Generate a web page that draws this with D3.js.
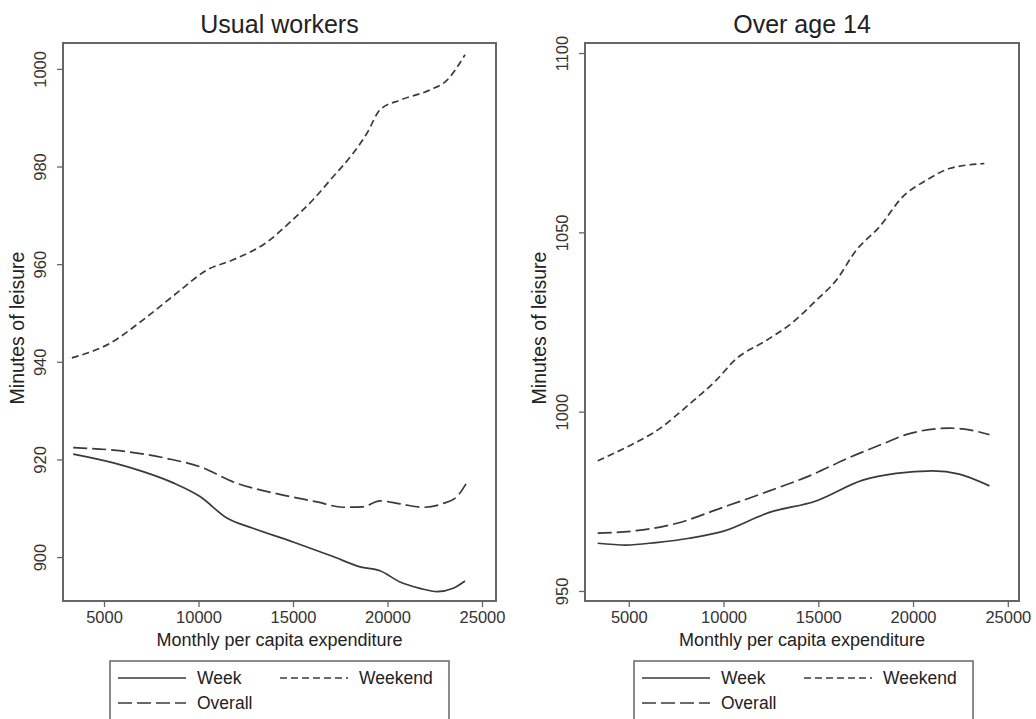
<!DOCTYPE html>
<html>
<head>
<meta charset="utf-8">
<script src="https://cdn.jsdelivr.net/npm/d3@7"></script>
<style>
  body { margin: 0; background: #fff; }
  svg { display: block; font-family: "Liberation Sans", Arial, sans-serif; }
</style>
</head>
<body>
<div id="chart"></div>
<script>
// values: [expenditure, minutes]
var workersWeek = [[3370,921.1],[5500,919.3],[7070,917.5],[8660,915.2],[10080,912.4],[11500,908.0],
  [12880,905.9],[15000,903.1],[17120,900.1],[18550,898.0],[19600,897.2],[20660,894.9],
  [21720,893.6],[22620,892.9],[23470,893.6],[24100,895.1]];
var workersWeekend = [[3300,940.8],[5320,943.8],[7070,948.6],[8860,954.1],[10450,958.8],[11830,960.9],
  [13620,964.5],[14840,968.6],[16060,973.2],[17120,977.9],[18180,982.7],[18910,986.8],
  [19600,991.6],[20660,993.6],[22250,995.7],[23150,997.7],[24100,1002.9]];
var workersOverall = [[3370,922.4],[5500,921.9],[8330,920.2],[10080,918.5],[11830,915.4],[14470,912.7],
  [16270,911.3],[17650,910.2],[18710,910.3],[19600,911.5],[20660,910.9],[21900,910.2],
  [22960,911.0],[23680,912.4],[24150,915.0]];

var over14Week = [[3360,963.3],[4850,962.8],[6440,963.5],[8200,964.7],[9960,966.6],[12420,971.9],
  [14880,975.1],[17350,980.9],[19100,982.8],[21040,983.5],[22440,982.6],[24030,979.3]];
var over14Weekend = [[3360,986.3],[4850,990.0],[6610,995.2],[8200,1002.1],[9600,1008.7],[10660,1014.7],
  [12240,1019.8],[13650,1024.9],[14880,1031.0],[15940,1036.6],[17000,1045.0],[18220,1051.5],
  [19450,1059.9],[20690,1064.5],[21920,1067.8],[23760,1069.2]];
var over14Overall = [[3360,966.1],[5380,966.8],[7490,968.8],[9960,973.3],[12420,977.9],[14530,982.1],
  [16640,987.2],[18400,991.0],[19630,993.6],[21920,995.4],[22620,995.2],[24030,993.6]];

var xTicks = [5000, 10000, 15000, 20000, 25000];
var workersYTicks = [900, 920, 940, 960, 980, 1000];
var over14YTicks = [950, 1000, 1050, 1100];
var seriesNames = ["Week", "Weekend", "Overall"];

var W = 1036, H = 719;
var lineColor = "#3a3a3a", frameColor = "#666";
var dashes = { Week: null, Weekend: "7,4", Overall: "14,5" };

var svg = d3.select("#chart").append("svg")
    .attr("width", W).attr("height", H);

function drawPanel(o) {
    var x = d3.scaleLinear().domain(o.xDomain).range([o.left, o.right]);
    var y = d3.scaleLinear().domain(o.yDomain).range([o.bottom, o.top]);
    var g = svg.append("g");

    g.append("text")
        .attr("x", (o.left + o.right) / 2).attr("y", 33)
        .attr("text-anchor", "middle")
        .attr("font-size", 25).attr("fill", "#222")
        .text(o.title);

    // x axis
    var xa = g.append("g")
        .attr("transform", "translate(0," + o.bottom + ")")
        .call(d3.axisBottom(x).tickValues(xTicks).tickSize(6).tickPadding(4).tickFormat(d3.format("d")));
    xa.select(".domain").remove();
    xa.selectAll("line").attr("stroke", frameColor).attr("stroke-width", 1.3);
    xa.selectAll("text").attr("font-size", 16.5).attr("fill", "#333").attr("font-family", "Liberation Sans, Arial, sans-serif");

    // y axis, labels turned upright
    var ya = g.append("g")
        .attr("transform", "translate(" + o.left + ",0)")
        .call(d3.axisLeft(y).tickValues(o.yTicks).tickSize(6).tickFormat(d3.format("d")));
    ya.select(".domain").remove();
    ya.selectAll("line").attr("stroke", frameColor).attr("stroke-width", 1.3);
    ya.selectAll("text")
        .attr("font-size", 16.5).attr("fill", "#333")
        .attr("font-family", "Liberation Sans, Arial, sans-serif")
        .attr("text-anchor", "middle")
        .attr("x", 0).attr("dy", 0)
        .attr("transform", "translate(-17,0) rotate(-90)");

    g.append("text")
        .attr("transform", "translate(" + (o.left - 39) + "," + ((o.top + o.bottom) / 2 + 6) + ") rotate(-90)")
        .attr("text-anchor", "middle")
        .attr("font-size", 19.5).attr("fill", "#222")
        .text("Minutes of leisure");

    g.append("text")
        .attr("x", (o.left + o.right) / 2).attr("y", 646)
        .attr("text-anchor", "middle")
        .attr("font-size", 18).attr("fill", "#222")
        .text("Monthly per capita expenditure");

    var line = d3.line()
        .curve(d3.curveMonotoneX)
        .x(function(d) { return x(d[0]); })
        .y(function(d) { return y(d[1]); });

    o.series.forEach(function(s, i) {
        g.append("path")
            .attr("d", line(s))
            .attr("fill", "none")
            .attr("stroke", lineColor)
            .attr("stroke-width", 1.7)
            .attr("stroke-dasharray", dashes[seriesNames[i]]);
    });

    g.append("rect")
        .attr("x", o.left).attr("y", o.top)
        .attr("width", o.right - o.left).attr("height", o.bottom - o.top)
        .attr("fill", "none").attr("stroke", frameColor).attr("stroke-width", 2);

    // legend
    var lg = g.append("g").attr("transform", "translate(" + o.legendX + ",661)");
    lg.append("rect")
        .attr("x", 0).attr("y", 0).attr("width", 339).attr("height", 70)
        .attr("fill", "none").attr("stroke", frameColor).attr("stroke-width", 1.5);
    var spots = [[8, 17], [170, 17], [8, 42]];
    seriesNames.forEach(function(name, i) {
        var p = spots[i];
        lg.append("line")
            .attr("x1", p[0]).attr("x2", p[0] + 68)
            .attr("y1", p[1]).attr("y2", p[1])
            .attr("stroke", lineColor).attr("stroke-width", 1.6)
            .attr("stroke-dasharray", dashes[name]);
        lg.append("text")
            .attr("x", p[0] + 79).attr("y", p[1] + 6)
            .attr("font-size", 17.5).attr("fill", "#222")
            .text(name);
    });
}

drawPanel({
    title: "Usual workers",
    left: 63, right: 496, top: 43, bottom: 601,
    xDomain: [2830, 25740], yDomain: [891, 1005.3],
    yTicks: workersYTicks,
    series: [workersWeek, workersWeekend, workersOverall],
    legendX: 110
});

drawPanel({
    title: "Over age 14",
    left: 585, right: 1019, top: 43, bottom: 601,
    xDomain: [2690, 25590], yDomain: [947.2, 1102.8],
    yTicks: over14YTicks,
    series: [over14Week, over14Weekend, over14Overall],
    legendX: 634
});
</script>
</body>
</html>
